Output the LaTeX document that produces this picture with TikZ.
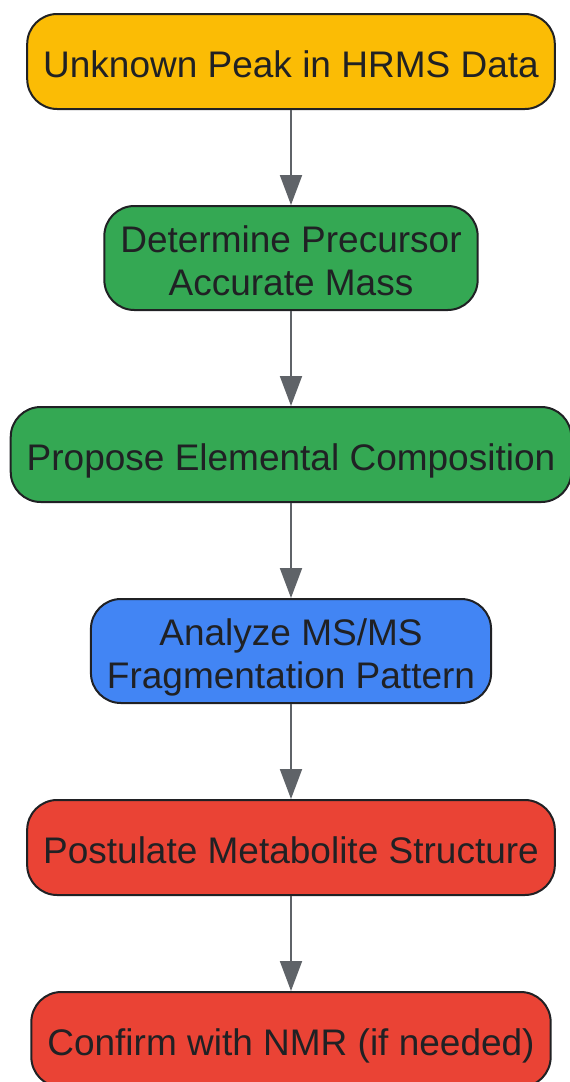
\documentclass[tikz,border=0pt]{standalone}
\usepackage{fontspec}
\setmainfont{Liberation Sans}
\usepackage{tikz}
\usetikzlibrary{positioning}
\usetikzlibrary{arrows.meta}
\definecolor{yellowbox}{HTML}{FBBC05}
\definecolor{greenbox}{HTML}{34A853}
\definecolor{bluebox}{HTML}{4285F4}
\definecolor{redbox}{HTML}{EA4335}
\definecolor{edgegray}{HTML}{5F6368}
\definecolor{textdark}{HTML}{202124}

\begin{document}
\begin{tikzpicture}[x=1pt,y=1pt,
  stepbox/.style={draw=textdark, line width=2pt, rounded corners=30pt, align=center,
    minimum height=95pt, inner xsep=16pt, inner ysep=4pt, text=textdark,
    text height=31.6pt, text depth=0pt,
    font=\fontsize{37}{43}\selectfont},
  twoline/.style={minimum height=104pt, text height=75pt},
  flow/.style={draw=edgegray, line width=2pt, -{Triangle[length=30pt,width=22pt]}},
  node distance=95pt]
\useasboundingbox (0,0) rectangle (570,-1082);

% Nodes
\node (peak) [stepbox, fill=yellowbox] at (291,-61.5) {Unknown Peak in HRMS Data};
\node (mass) [stepbox, twoline, fill=greenbox, below=of peak] {Determine Precursor\\Accurate Mass};
\node (comp) [stepbox, fill=greenbox, below=of mass] {Propose Elemental Composition};
\node (frag) [stepbox, twoline, fill=bluebox, below=of comp] {Analyze MS/MS\\Fragmentation Pattern};
\node (struct) [stepbox, fill=redbox, below=of frag] {Postulate Metabolite Structure};
\node (nmr) [stepbox, fill=redbox, below=of struct] {Confirm with NMR (if needed)};

% Arrows
\draw [flow] (peak) -- (mass);
\draw [flow] (mass) -- (comp);
\draw [flow] (comp) -- (frag);
\draw [flow] (frag) -- (struct);
\draw [flow] (struct) -- (nmr);

\end{tikzpicture}
\end{document}
